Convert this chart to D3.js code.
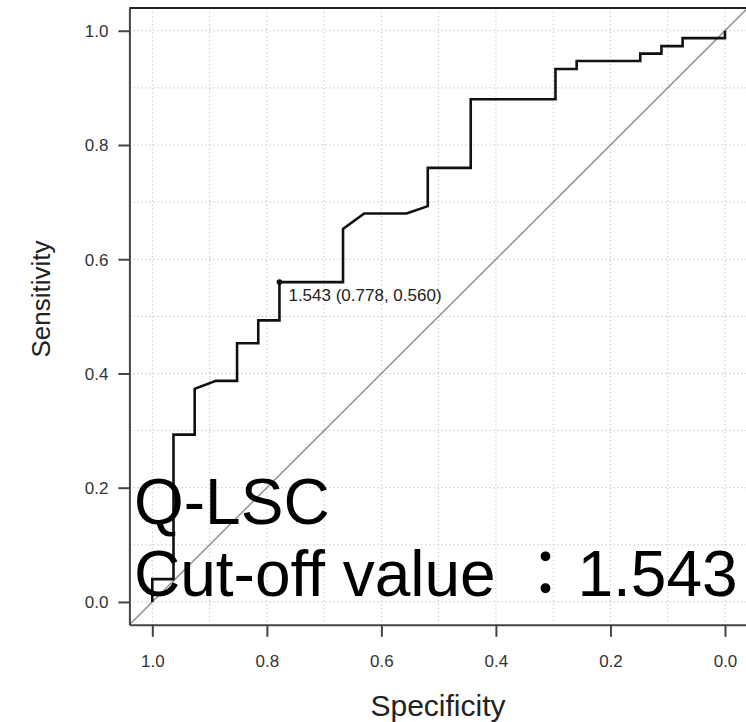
<!DOCTYPE html>
<html>
<head>
<meta charset="utf-8">
<script src="https://cdn.jsdelivr.net/npm/d3@7"></script>
<style>
  body { margin: 0; background: #fff; }
  svg { display: block; font-family: "Liberation Sans", Arial, sans-serif; }
</style>
</head>
<body>
<svg id="roc" width="746" height="722"></svg>
<script>
// ROC curve points (specificity, sensitivity)
var specificity = [1.000, 1.000, 0.963, 0.963, 0.926, 0.926, 0.889, 0.852, 0.852, 0.815, 0.815,
                   0.778, 0.778, 0.667, 0.667, 0.630, 0.556, 0.519, 0.519, 0.444, 0.444, 0.296,
                   0.296, 0.259, 0.259, 0.148, 0.148, 0.111, 0.111, 0.074, 0.074, 0.000, 0.000];
var sensitivity = [0.000, 0.040, 0.040, 0.293, 0.293, 0.373, 0.387, 0.387, 0.453, 0.453, 0.493,
                   0.493, 0.560, 0.560, 0.653, 0.680, 0.680, 0.693, 0.760, 0.760, 0.880, 0.880,
                   0.933, 0.933, 0.947, 0.947, 0.960, 0.960, 0.973, 0.973, 0.987, 0.987, 1.000];
var tickValues = [1.0, 0.8, 0.6, 0.4, 0.2, 0.0];
var gridValues = [0, 0.1, 0.2, 0.3, 0.4, 0.5, 0.6, 0.7, 0.8, 0.9, 1.0];
var cutoff = "1.543", cutSpec = 0.778, cutSens = 0.560;
var overlayLines = ["Q-LSC", "Cut-off value \uFF1A1.543"];

var svg = d3.select("#roc");

var x = d3.scaleLinear().domain([1.04, -0.04]).range([129.4, 747.9]);
var y = d3.scaleLinear().domain([-0.04, 1.04]).range([624.8, 7.9]);

// grid
var grid = svg.append("g").attr("stroke", "#c8c8c8").attr("stroke-width", 1).attr("stroke-dasharray", "1.5,2.5");
grid.selectAll(".gx").data(gridValues).enter().append("line")
    .attr("x1", d => x(d)).attr("x2", d => x(d))
    .attr("y1", y(1.04)).attr("y2", y(-0.04));
grid.selectAll(".gy").data(gridValues).enter().append("line")
    .attr("x1", x(1.04)).attr("x2", x(-0.04))
    .attr("y1", d => y(d)).attr("y2", d => y(d));

// diagonal
svg.append("line")
    .attr("x1", x(1.04)).attr("y1", y(-0.04))
    .attr("x2", x(-0.04)).attr("y2", y(1.04))
    .attr("stroke", "#8c8c8c")
    .attr("stroke-width", 1.4);

// frame top
svg.append("line")
    .attr("x1", x(1.04)).attr("x2", x(-0.04))
    .attr("y1", y(1.04)).attr("y2", y(1.04))
    .attr("stroke", "#222").attr("stroke-width", 2);

// axes
var yAxis = svg.append("g")
    .attr("transform", "translate(" + x(1.04) + ",0)")
    .call(d3.axisLeft(y).tickValues(tickValues).tickFormat(d3.format(".1f")).tickSize(11).tickSizeOuter(0).tickPadding(10));
var xAxis = svg.append("g")
    .attr("transform", "translate(0," + y(-0.04) + ")")
    .call(d3.axisBottom(x).tickValues(tickValues).tickFormat(d3.format(".1f")).tickSize(12).tickSizeOuter(0).tickPadding(18));
[yAxis, xAxis].forEach(function(a){
    a.select(".domain").attr("stroke", "#444").attr("stroke-width", 2);
    a.selectAll(".tick line").attr("stroke", "#444").attr("stroke-width", 2);
    a.selectAll(".tick text")
        .attr("fill", "#333")
        .style("font-size", "17px")
        .style("font-family", "Liberation Sans, Arial, sans-serif");
});
yAxis.selectAll(".tick text").attr("dy", "0.35em");

// axis titles
svg.append("text")
    .attr("x", 438).attr("y", 716)
    .attr("text-anchor", "middle")
    .attr("fill", "#222")
    .style("font-size", "30px")
    .text("Specificity");
svg.append("text")
    .attr("transform", "translate(50,299) rotate(-90)")
    .attr("text-anchor", "middle")
    .attr("fill", "#222")
    .style("font-size", "26px")
    .text("Sensitivity");

// ROC curve
var pts = specificity.map((s, i) => [s, sensitivity[i]]);
svg.append("path")
    .datum(pts)
    .attr("d", d3.line().x(d => x(d[0])).y(d => y(d[1])))
    .attr("fill", "none")
    .attr("stroke", "#111")
    .attr("stroke-width", 2.6)
    .attr("stroke-linejoin", "miter");

// cut-off point
svg.append("circle")
    .attr("cx", x(cutSpec)).attr("cy", y(cutSens))
    .attr("r", 2.8)
    .attr("fill", "#111");
svg.append("text")
    .attr("x", x(cutSpec) + 9).attr("y", y(cutSens) + 18.5)
    .attr("fill", "#222")
    .style("font-size", "17px")
    .text(cutoff + " (" + cutSpec.toFixed(3) + ", " + cutSens.toFixed(3) + ")");

// big overlay text
svg.selectAll(".big").data(overlayLines).enter().append("text")
    .attr("x", 134)
    .attr("y", (d, i) => 524 + i * 72)
    .attr("fill", "#000")
    .style("font-size", "64px")
    .style("font-family", "Liberation Sans, Arial, 'Noto Sans CJK JP', sans-serif")
    .text(d => d);
</script>
</body>
</html>
